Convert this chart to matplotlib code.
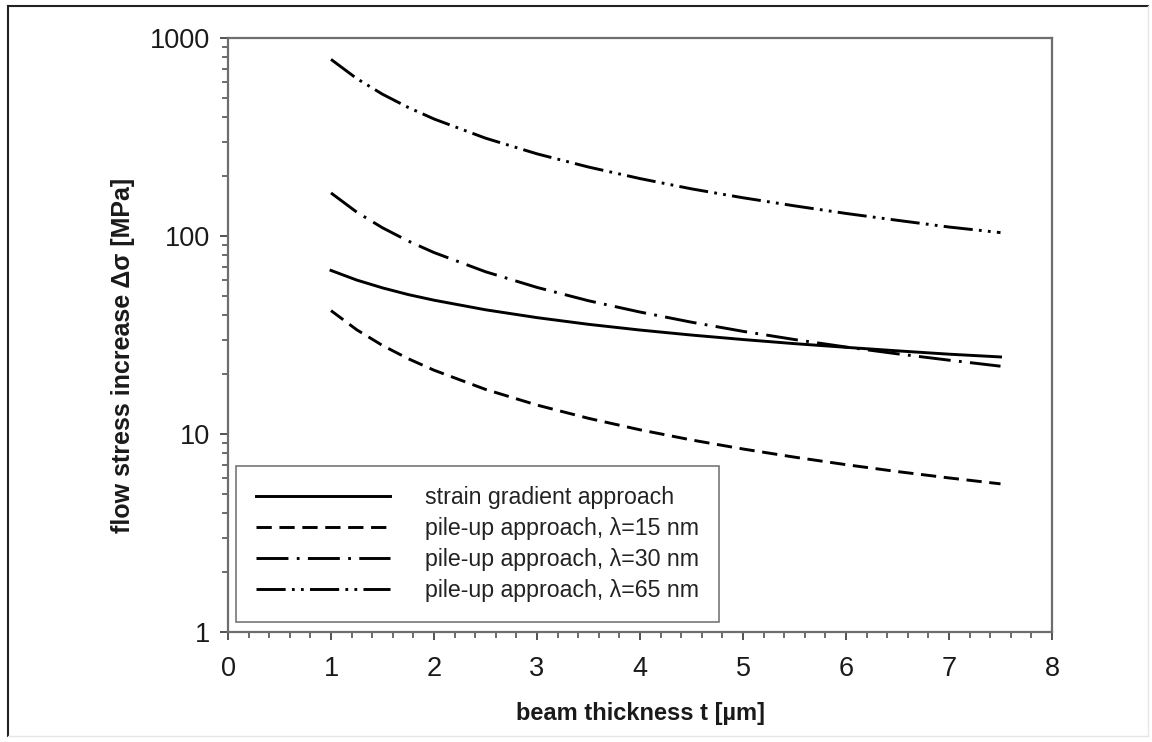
import matplotlib
matplotlib.use('Agg')
import matplotlib.pyplot as plt
from matplotlib.ticker import FixedLocator, NullFormatter

plt.rcParams['font.family'] = ['Liberation Sans', 'DejaVu Sans']
plt.rcParams['lines.scale_dashes'] = False

# beam thickness t [um]
thickness = [1, 1.25, 1.5, 1.75, 2, 2.5, 3, 3.5, 4, 4.5, 5, 5.5, 6, 6.5, 7, 7.5]
# flow stress increase [MPa]
strain_gradient = [67, 59.9, 54.7, 50.6, 47.4, 42.4, 38.7, 35.8, 33.5, 31.6, 30.0, 28.6, 27.4, 26.3, 25.3, 24.5]
pileup_15 = [42, 33.6, 28, 24, 21, 16.8, 14, 12, 10.5, 9.33, 8.4, 7.64, 7.0, 6.46, 6.0, 5.6]
pileup_30 = [165, 132, 110, 94.3, 82.5, 66, 55, 47.1, 41.3, 36.7, 33, 30, 27.5, 25.4, 23.6, 22]
pileup_65 = [780, 624, 520, 446, 390, 312, 260, 223, 195, 173, 156, 142, 130, 120, 111, 104]

labels = ['strain gradient approach',
          'pile-up approach, \u03bb=15 nm',
          'pile-up approach, \u03bb=30 nm',
          'pile-up approach, \u03bb=65 nm']
yticks = [1, 10, 100, 1000]
ytick_labels = ['1', '10', '100', '1000']
xticks = [0, 1, 2, 3, 4, 5, 6, 7, 8]

fig = plt.figure(figsize=(11.52, 7.42), dpi=100)
ax = fig.add_axes([228/1152, 1 - 632/742, 824/1152, 594/742])

lw = 2.1
ax.plot(thickness, strain_gradient, color='black', lw=lw, ls='-', label=labels[0])
ax.plot(thickness, pileup_15, color='black', lw=lw, ls=(0, (11, 5.5)), label=labels[1])
ax.plot(thickness, pileup_30, color='black', lw=lw, ls=(0, (23, 6, 2, 6)), label=labels[2])
ax.plot(thickness, pileup_65, color='black', lw=lw, ls=(0, (21, 4.5, 2, 4.5, 2, 4.5)), label=labels[3])

ax.set_yscale('log')
ax.set_xlim(0, 8)
ax.set_ylim(1, 1000)
ax.set_xticks(xticks)
ax.set_xticklabels([str(t) for t in xticks])
ax.xaxis.set_minor_locator(FixedLocator([i * 0.2 for i in range(41) if i % 5 != 0]))
ax.set_yticks(yticks)
ax.set_yticklabels(ytick_labels)
ax.yaxis.set_minor_locator(FixedLocator([m * 10**d for d in range(3) for m in range(2, 10)]))
ax.yaxis.set_minor_formatter(NullFormatter())

spine_col = '#6e6e6e'
for s in ax.spines.values():
    s.set_color(spine_col)
    s.set_linewidth(1.6)

ax.tick_params(which='major', direction='out', length=6, width=1.3, color='#444444',
               labelsize=19.5, pad=7, labelcolor='#1a1a1a')
ax.tick_params(which='minor', direction='out', length=4, width=1.1, color='#444444')
ax.tick_params(axis='x', which='major', pad=11)

ax.set_xlabel('beam thickness t [\u00b5m]', fontsize=17, fontweight='bold', color='#1a1a1a')
ax.set_ylabel('flow stress increase \u0394\u03c3 [MPa]', fontsize=18, fontweight='bold', color='#1a1a1a')
ax.xaxis.set_label_coords(0.5, -0.118)
ax.yaxis.set_label_coords(-0.113, 0.466)

leg = ax.legend(loc='lower left', bbox_to_anchor=(0.0097, 0.017), borderaxespad=0,
                fontsize=16.7, handlelength=5.8, handletextpad=1.5, labelspacing=0.35,
                borderpad=0.85, fancybox=False, framealpha=1, edgecolor='#777777')
leg.get_frame().set_linewidth(1.2)
for t in leg.get_texts():
    t.set_color('#222222')

# outer frame of the figure
fig.add_artist(plt.Line2D([8/1152, 8/1152], [1 - 736/742, 1 - 6/742], transform=fig.transFigure, color='#222222', lw=1.5))
fig.add_artist(plt.Line2D([8/1152, 1148/1152], [1 - 6/742, 1 - 6/742], transform=fig.transFigure, color='#222222', lw=1.5))
fig.add_artist(plt.Line2D([1148/1152, 1148/1152], [1 - 736/742, 1 - 6/742], transform=fig.transFigure, color='#e6e6e6', lw=1.0))
fig.add_artist(plt.Line2D([8/1152, 1148/1152], [1 - 736/742, 1 - 736/742], transform=fig.transFigure, color='#e6e6e6', lw=1.0))

fig.savefig('out.png', dpi=100)
